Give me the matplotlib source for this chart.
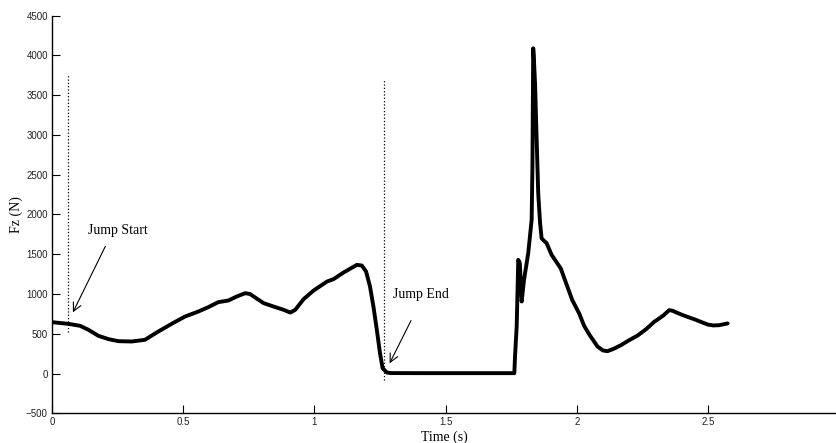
import matplotlib
matplotlib.use("Agg")
import matplotlib.pyplot as plt

# force plate trace
time_s = [0.000, 0.062, 0.107, 0.139, 0.177, 0.215, 0.253, 0.304, 0.354, 0.405,
          0.456, 0.507, 0.558, 0.596, 0.634, 0.672, 0.704, 0.737, 0.755, 0.806,
          0.844, 0.883, 0.908, 0.927, 0.959, 0.997, 1.048, 1.073, 1.111, 1.162,
          1.181, 1.197, 1.212, 1.225, 1.238, 1.250, 1.260, 1.276, 1.290, 1.400,
          1.762, 1.765, 1.771, 1.777, 1.783, 1.790, 1.799, 1.815, 1.828, 1.831,
          1.833, 1.834, 1.836, 1.841, 1.853, 1.860, 1.866, 1.875, 1.885, 1.904,
          1.939, 1.960, 1.983, 2.010, 2.028, 2.050, 2.079, 2.100, 2.117, 2.140,
          2.168, 2.200, 2.232, 2.265, 2.295, 2.314, 2.330, 2.352, 2.365, 2.378,
          2.400, 2.422, 2.450, 2.473, 2.500, 2.520, 2.543, 2.560, 2.575]
force_n = [646, 625, 600, 550, 474, 433, 407, 403, 424, 528,
           625, 717, 780, 835, 898, 918, 969, 1011, 999, 886,
           843, 801, 767, 801, 936, 1044, 1157, 1187, 1270, 1367,
           1358, 1283, 1094, 843, 550, 257, 68, 13, 6, 5,
           5, 235, 591, 1430, 1389, 906, 1179, 1514, 1933, 2600,
           3600, 4090, 4000, 3650, 2270, 1900, 1700, 1670, 1640, 1493,
           1322, 1130, 923, 750, 600, 480, 340, 290, 281, 310,
           356, 420, 478, 560, 650, 693, 730, 797, 790, 770,
           740, 713, 680, 650, 615, 605, 608, 620, 630]

# event markers (time, bottom, top)
start_t, start_lo, start_hi = 0.062, 520, 3770
end_t, end_lo, end_hi = 1.266, -80, 3707

fig = plt.figure(figsize=(8.36, 4.43), dpi=100)
ax = fig.add_axes([52 / 836, 29.7 / 443, 1 - 52 / 836, 397.6 / 443])

ax.plot(time_s, force_n, color="black", lw=2.8,
        solid_joinstyle="round", solid_capstyle="round")

ax.vlines(start_t, start_lo, start_hi, colors="black", linestyles=":", lw=0.9)
ax.vlines(end_t, end_lo, end_hi, colors="black", linestyles=":", lw=0.9)

serif = "Liberation Serif"
arrow = dict(arrowstyle="->,head_length=0.6,head_width=0.3", lw=0.8, color="black")
ax.annotate("", xy=(0.075, 738), xytext=(0.208, 1631), arrowprops=arrow)
ax.text(0.137, 1795, "Jump Start", family=serif, fontsize=10, va="center", ha="left")
ax.annotate("", xy=(1.282, 97), xytext=(1.373, 697), arrowprops=arrow)
ax.text(1.300, 996, "Jump End", family=serif, fontsize=10, va="center", ha="left")

ax.set_xlim(0, 2.988)
ax.set_ylim(-500, 4500)
ax.set_xticks([0, 0.5, 1, 1.5, 2, 2.5])
ax.set_xticklabels(["0", "0.5", "1", "1.5", "2", "2.5"])
ax.set_yticks(range(-500, 4501, 500))

for side in ["top", "right"]:
    ax.spines[side].set_visible(False)
for side in ["left", "bottom"]:
    ax.spines[side].set_linewidth(1.0)

ax.tick_params(direction="in", length=6, width=0.8, labelsize=7, pad=3, labelcolor="#222222")
for lab in ax.get_xticklabels() + ax.get_yticklabels():
    lab.set_family("Liberation Sans")

ax.set_xlabel("Time (s)", family=serif, fontsize=10, labelpad=2)
ax.set_ylabel("Fz (N)", family=serif, fontsize=10, labelpad=2)

fig.savefig("out.png", dpi=100)
